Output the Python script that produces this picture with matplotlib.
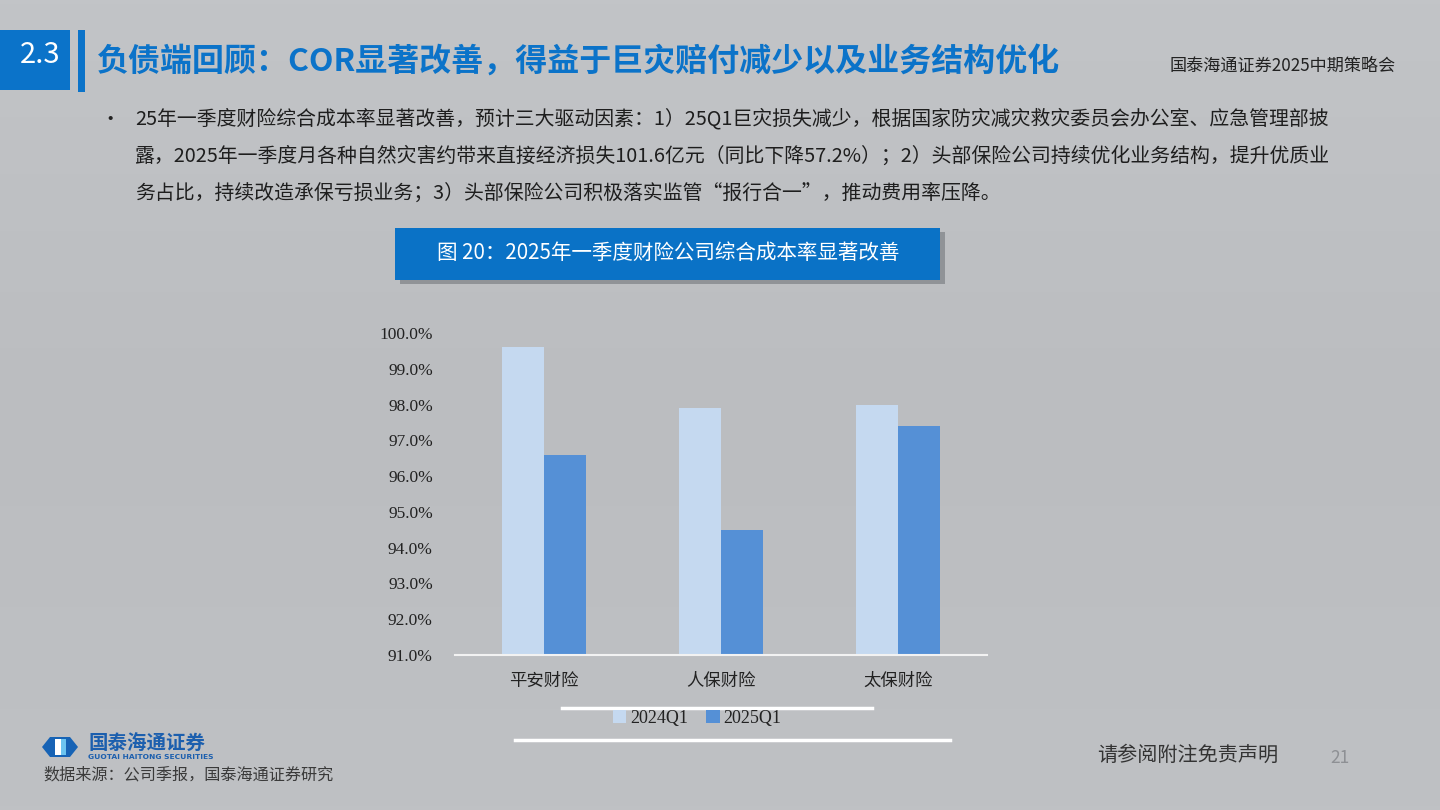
import matplotlib.pyplot as plt
from matplotlib.patches import Rectangle, Polygon
import numpy as np

plt.rcParams['font.family'] = ['Noto Sans CJK SC', 'DejaVu Sans']

# data
companies = ["平安财险", "人保财险", "太保财险"]
cor_2024q1 = [99.6, 97.9, 98.0]
cor_2025q1 = [96.6, 94.5, 97.4]
series_names = ["2024Q1", "2025Q1"]
yticks = [91, 92, 93, 94, 95, 96, 97, 98, 99, 100]

W, H = 1440, 810


def fx(x):
    return x / W


def fy(y):
    return 1 - y / H


fig = plt.figure(figsize=(14.4, 8.1), dpi=100)
fig.patch.set_facecolor('#BEC0C3')

# background gradient
bg = fig.add_axes([0, 0, 1, 1], zorder=-10)
grad = np.linspace(0, 1, 200).reshape(-1, 1)
bg.imshow(grad, cmap=plt.matplotlib.colors.LinearSegmentedColormap.from_list(
    'bg', ['#C2C4C7', '#BBBDC0', '#BFC1C4']), aspect='auto', extent=[0, 1, 0, 1])
bg.set_xlim(0, 1)
bg.set_ylim(0, 1)
bg.axis('off')

blue = '#0B73C9'

# header
fig.patches.append(Rectangle((fx(0), fy(90)), fx(70), 60 / H, transform=fig.transFigure,
                             facecolor=blue, edgecolor='none'))
fig.patches.append(Rectangle((fx(78), fy(92)), fx(7), 62 / H, transform=fig.transFigure,
                             facecolor=blue, edgecolor='none'))
fig.text(fx(40), fy(55), "2.3", color='white', fontsize=21, ha='center', va='center')
fig.text(fx(97), fy(62), "负债端回顾：COR显著改善，得益于巨灾赔付减少以及业务结构优化",
         color=blue, fontsize=23, fontweight='bold', ha='left', va='center')
fig.text(fx(1170), fy(66), "国泰海通证券2025中期策略会", color='#222222', fontsize=12.3,
         ha='left', va='center')

# bullet text
fig.text(fx(100), fy(119), "•", color='#222222', fontsize=14, ha='left', va='center')
lines = [
    "25年一季度财险综合成本率显著改善，预计三大驱动因素：1）25Q1巨灾损失减少，根据国家防灾减灾救灾委员会办公室、应急管理部披",
    "露，2025年一季度月各种自然灾害约带来直接经济损失101.6亿元（同比下降57.2%）；2）头部保险公司持续优化业务结构，提升优质业",
    "务占比，持续改造承保亏损业务；3）头部保险公司积极落实监管“报行合一”，推动费用率压降。",
]
for i, ln in enumerate(lines):
    fig.text(fx(135), fy(119 + 37 * i), ln, color='#1E1E1E', fontsize=14.3,
             ha='left', va='center')

# figure title box with shadow
fig.patches.append(Rectangle((fx(400), fy(284)), fx(545), 52 / H, transform=fig.transFigure,
                             facecolor='#7E8186', edgecolor='none', alpha=0.7))
fig.patches.append(Rectangle((fx(395), fy(280)), fx(545), 52 / H, transform=fig.transFigure,
                             facecolor='#0A72C6', edgecolor='none'))
fig.text(fx(668), fy(253), "图 20：2025年一季度财险公司综合成本率显著改善", color='white',
         fontsize=14.8, ha='center', va='center')

# chart
ax = fig.add_axes([fx(455), fy(655), fx(987 - 455), (655 - 333) / H])
ax.set_facecolor('none')
x = np.arange(len(companies))
bw = 0.236
ax.bar(x - bw / 2, cor_2024q1, bw, color='#C5D9F0', label=series_names[0], zorder=2)
ax.bar(x + bw / 2, cor_2025q1, bw, color='#5590D6', label=series_names[1], zorder=2)
ax.set_ylim(91, 100)
ax.set_xlim(-0.5, 2.5)
ax.set_yticks(yticks)
ax.set_yticklabels([f"{v:.1f}%" for v in yticks], family='Liberation Serif',
                   fontsize=12.5, color='#222222')
ax.set_xticks(x)
ax.set_xticklabels(companies, fontsize=12.5, color='#222222')
for s in ['top', 'right', 'left']:
    ax.spines[s].set_visible(False)
ax.spines['bottom'].set_color('#F2F2F2')
ax.spines['bottom'].set_linewidth(1.5)
ax.tick_params(axis='both', length=0)
ax.tick_params(axis='x', pad=12)
ax.tick_params(axis='y', pad=16)

leg = fig.legend(loc='center', bbox_to_anchor=(fx(697), fy(718)), ncol=2, frameon=False,
                 handlelength=0.75, handleheight=0.75, handletextpad=0.2, columnspacing=1.0,
                 prop={'family': 'Liberation Serif', 'size': 13})
for t in leg.get_texts():
    t.set_color('#222222')

# white artifact lines around legend
fig.add_artist(plt.Line2D([fx(562), fx(872)], [fy(708), fy(708)], color='white', lw=2.5))
fig.add_artist(plt.Line2D([fx(515), fx(950)], [fy(740), fy(740)], color='white', lw=2.5))

# logo
hexagon = [(fx(42), fy(747)), (fx(50), fy(737)), (fx(70), fy(737)), (fx(78), fy(747)),
           (fx(70), fy(757)), (fx(50), fy(757))]
fig.patches.append(Polygon(hexagon, closed=True, transform=fig.transFigure,
                           facecolor='#1763B5', edgecolor='none'))
fig.patches.append(Rectangle((fx(55), fy(755)), fx(6), 16 / H, transform=fig.transFigure,
                             facecolor='white', edgecolor='none'))
fig.patches.append(Rectangle((fx(61), fy(755)), fx(5), 16 / H, transform=fig.transFigure,
                             facecolor='#6CC4F0', edgecolor='none'))
fig.text(fx(88), fy(744), "国泰海通证券", color='#1C5FAE', fontsize=14, fontweight='bold',
         ha='left', va='center')
fig.text(fx(88), fy(757), "GUOTAI HAITONG SECURITIES", color='#1C5FAE', fontsize=5.4,
         fontweight='bold', ha='left', va='center', family='DejaVu Sans')
fig.text(fx(43), fy(775), "数据来源：公司季报，国泰海通证券研究", color='#3A3A3A', fontsize=11.6,
         ha='left', va='center')

# footer
fig.text(fx(1097), fy(755), "请参阅附注免责声明", color='#333333', fontsize=14.5,
         ha='left', va='center')
fig.text(fx(1330), fy(758), "21", color='#8E9094', fontsize=12.5, ha='left', va='center')

fig.savefig('out.png', dpi=100)
